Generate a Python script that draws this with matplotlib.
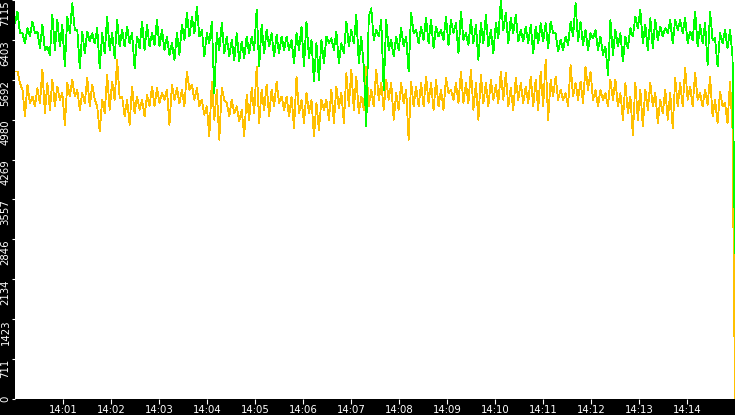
import matplotlib
matplotlib.use("Agg")
import matplotlib.pyplot as plt
import pandas as pd
import numpy as np

green = [6700,
    6907,6522, 6522,6344, 6611,6463, 6730,6522, 6552,6255, 6670,6226, 6285,6137, 6848,6226, 6759,6285, 6670,5929,
    6818,6522, 7056,6581, 6581,5899, 6552,6166, 6552,6374, 6522,6344, 6611,5899, 6522,6166, 6818,6226, 6522,6077,
    6759,6285, 6581,6285, 6641,6344, 6522,5899, 6463,6255, 6730,6226, 6670,6285, 6522,6314, 6759,6285, 6581,6226,
    6463,6137, 6344,6048, 6522,6137, 6670,6403, 6878,6463, 6818,6522, 6996,6463, 6581,6107, 6522,6344, 6730,5455,
    6522,6226, 6700,6166, 6463,6107, 6403,6048, 6522,6018, 6374,6077, 6463,6166,
    6463,6226, 6937,5929, 6670,6166, 6581,6285, 6522,6107, 6492,6166, 6463,6226, 6463,6226, 6403,5988, 6522,6226,
    6641,5929, 6730,6077, 6403,5662, 6344,5692, 6403,5988, 6463,6344, 6433,6226, 6552,5988, 6344,6166, 6730,6285,
    6581,6344, 6848,5988, 6463,5929, 4862,6818, 6967,6403, 6581,6463, 6759,5514, 6759,6226, 6403,6107, 6463,6226,
    6611,6285, 6463,5840, 6878,6522, 6581,6344, 6641,6403, 6789,6344, 6759,6255, 6641,6463, 6581,6403, 6818,6314,
    6759,6522, 6700,6166, 6907,6403, 6522,6314, 6759,6344, 6670,6048, 6700,6344, 6848,6285,
    6581,6166, 6700,6433, 7115,6581, 6878,6344, 6789,6522, 6848,6374, 6581,6374, 6641,6344, 6670,6166, 6641,6344,
    6700,6374, 6700,6255, 6730,6522, 6522,6196, 6403,6226, 6463,6314, 6730,6463, 7056,6374, 6730,6314, 6581,6226,
    6522,6433, 6581,6226, 6463,6137, 6285,5781, 6759,6137, 6581,6285, 6522,6018, 6463,6255, 6611,6463, 6818,6611,
    6937,6344, 6670,6226, 6789,6255, 6759,6403, 6641,6463, 6611,6522, 6759,6344, 6759,6581, 6759,6522, 6789,6344,
    6552,6403, 6907,6285, 6670,6344, 6700,5959, 6907,6403, 6433,5929, 6522,6344, 6581,6255, 6581,6107,
    2597]

yellow = [5840,
    5840,5633, 5514,5040, 5603,5277, 5395,5218, 5544,5277, 5870,5099, 5633,5158, 5692,5218, 5573,5336, 5455,4891,
    5633,5395, 5692,5395, 5514,5158, 5455,5277, 5721,5218, 5603,5336, 5218,4773, 5336,5099, 5781,5158, 5662,5336,
    6048,5366, 5395,5040, 5336,4891, 5573,5099, 5395,5158, 5336,5040, 5425,5218, 5573,5218, 5544,5277, 5455,5336,
    5514,4891, 5603,5336, 5544,5277, 5514,5218, 5840,5514, 5603,5336, 5544,5218, 5336,5069, 5218,4684, 5662,4980,
    5514,4624, 5544,5336, 5277,5040, 5336,5099, 5218,4951, 5158,4684, 5425,4980,
    5544,5099, 5929,4921, 5514,5158, 5603,5040, 5514,5218, 5662,5277, 5395,5158, 5395,5040, 5395,4832, 5751,5099,
    5336,4921, 5455,5099, 5336,4684, 5277,4802, 5336,5158, 5336,4980, 5514,4921, 5573,5188, 5455,4921, 5810,5218,
    5870,5158, 5751,5099, 5395,5158, 5929,5218, 5514,5218, 5870,5336, 5633,5158, 5692,5336, 5633,4980, 5455,5158,
    5633,5277, 5514,4624, 5662,5218, 5573,5218, 5633,5218, 5751,5277, 5633,5158, 5692,5218, 5514,5158, 5721,5455,
    5514,5336, 5633,5277, 5840,5277, 5633,5277, 5870,5158, 5633,4980, 5781,5277, 5633,5218,
    5692,5336, 5603,5277, 5840,5336, 5810,5218, 5544,5158, 5721,5336, 5633,5277, 5573,5277, 5751,5218, 5692,5158,
    5840,5218, 6048,4980, 5692,5395, 5751,5336, 5514,5336, 5455,5218, 5959,5395, 5633,5336, 5662,5277, 5929,5514,
    5840,5336, 5514,5218, 5514,5336, 5455,5218, 5692,5336, 5692,5218, 5455,4980, 5633,5099, 5395,4713, 5633,4980,
    5514,4862, 5514,5158, 5633,5218, 5455,4921, 5336,5099, 5514,4980, 5455,4832, 5721,5218, 5633,5218, 5899,5336,
    5573,5218, 5810,5336, 5455,5218, 5514,5247, 5751,5040, 5336,4921, 5484,5218, 5277,4921, 5662,4802,
    0]

y_max = 7115
ytick_labels = ["0", "711", "1423", "2134", "2846", "3557", "4269", "4980", "5692", "6403", "7115"]
xtick_labels = ["14:01", "14:02", "14:03", "14:04", "14:05", "14:06", "14:07",
                "14:08", "14:09", "14:10", "14:11", "14:12", "14:13", "14:14"]
t_start = "2024-01-01 14:00:00"
t_end = "2024-01-01 14:15:00"

t_green = pd.date_range(t_start, t_end, periods=len(green))
t_yellow = pd.date_range(t_start, t_end, periods=len(yellow))

fig = plt.figure(figsize=(7.35, 4.15), dpi=100, facecolor="black")
ax = fig.add_axes([15/735, 16/415, 720/735, 399/415])
ax.set_facecolor("white")
for s in ax.spines.values():
    s.set_visible(False)

ax.plot(t_yellow, yellow, color="#ffc000", lw=0.6, antialiased=False, zorder=2)
ax.plot(t_green, green, color="#00ff00", lw=0.6, antialiased=False, zorder=3)

ax.set_xlim(pd.Timestamp(t_start), pd.Timestamp(t_end))
ax.set_ylim(0, y_max)

yticks = np.linspace(0, y_max, len(ytick_labels))
ax.set_yticks(yticks)
ax.set_yticklabels(ytick_labels, rotation=90, fontsize=7.3, color="white", family="DejaVu Sans")
for i, lab in enumerate(ax.get_yticklabels()):
    lab.set_va("center" if i == 0 else "top")

xticks = [pd.Timestamp(t_start) + pd.Timedelta(minutes=i + 1) for i in range(len(xtick_labels))]
ax.set_xticks(xticks)
ax.set_xticklabels(xtick_labels, fontsize=7.3, color="white", family="DejaVu Sans")

ax.tick_params(axis="y", colors="white", length=2.2, width=0.8, pad=1, direction="out")
ax.tick_params(axis="x", colors="white", length=3.6, width=0.8, pad=1, direction="out")

fig.savefig("out.png", dpi=100, facecolor="black")
